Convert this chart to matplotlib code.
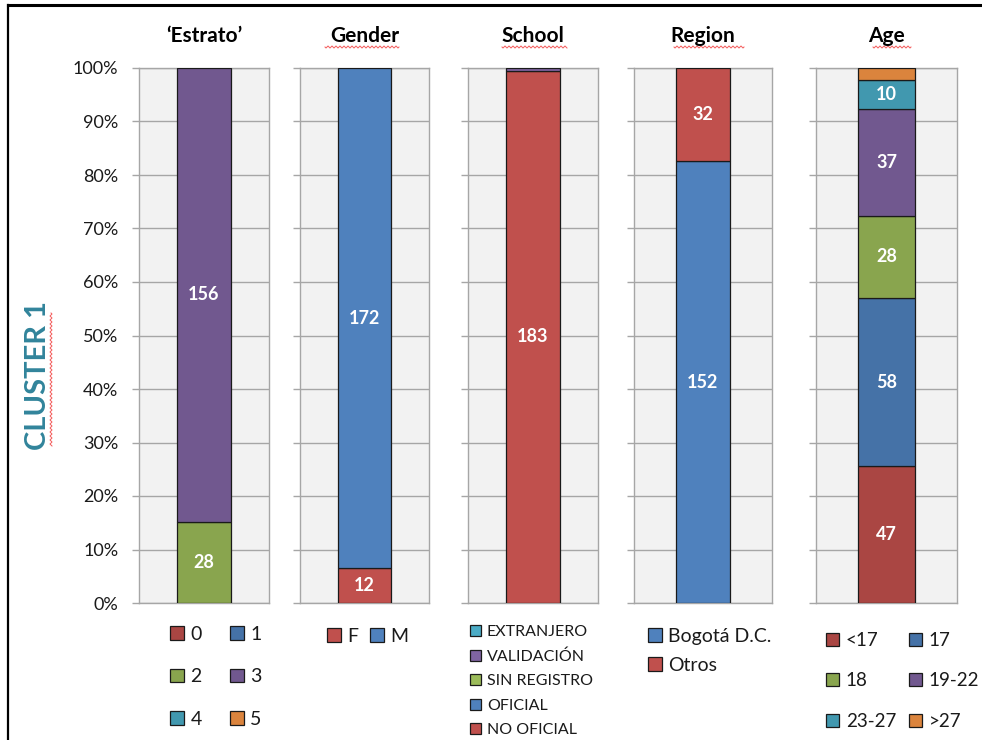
import numpy as np
import matplotlib
matplotlib.use('Agg')
import matplotlib.pyplot as plt
from matplotlib.patches import Patch
from matplotlib.lines import Line2D

plt.rcParams['font.family'] = ['Lato', 'DejaVu Sans']

# ---- datos por variable (conteos del cluster 1) ----
estrato_labels = ['0', '1', '2', '3', '4', '5']
estrato_counts = [0, 0, 28, 156, 0, 0]

gender_labels = ['F', 'M']
gender_counts = [12, 172]

school_labels = ['NO OFICIAL', 'OFICIAL', 'SIN REGISTRO', 'VALIDACIÓN', 'EXTRANJERO']
school_counts = [183, 0, 0, 1, 0]

region_labels = ['Bogotá D.C.', 'Otros']
region_counts = [152, 32]

age_labels = ['<17', '17', '18', '19-22', '23-27', '>27']
age_counts = [47, 58, 28, 37, 10, 4]

titles = ['\u2018Estrato\u2019', 'Gender', 'School', 'Region', 'Age']
y_ticks = list(range(0, 101, 10))

# paletas tipo Excel
dark = ['#AA4643', '#4572A7', '#89A54E', '#71588F', '#4198AF', '#DB843D']
c_red, c_blue, c_green, c_purple, c_teal = '#C0504D', '#4F81BD', '#9BBB59', '#8064A2', '#4BACC6'

W, H = 982, 740
fig = plt.figure(figsize=(W / 100, H / 100), dpi=100)
fig.patch.set_facecolor('white')

def fx(px):
    return px / W

def fy(py):
    return 1 - py / H

# limites de cada panel en pixeles (izq, der) y ancho de barra
panels = [(139, 269, 0.415), (300, 429, 0.41), (468, 598, 0.41), (634, 772, 0.39), (816, 957, 0.41)]
y_top, y_bot = 68, 603

series = [
    (estrato_labels, estrato_counts, dark),
    (gender_labels, gender_counts, [c_red, c_blue]),
    (school_labels, school_counts, [c_red, c_blue, c_green, c_purple, c_teal]),
    (region_labels, region_counts, [c_blue, c_red]),
    (age_labels, age_counts, dark),
]

for i, ((x0, x1, bw), (labels, counts, cols)) in enumerate(zip(panels, series)):
    ax = fig.add_axes([fx(x0), fy(y_bot), fx(x1 - x0), (y_bot - y_top) / H])
    ax.set_facecolor('#F2F2F2')
    ax.set_xlim(-0.5, 0.5)
    ax.set_ylim(0, 100)
    ax.set_yticks(y_ticks)
    ax.set_xticks([])
    ax.yaxis.grid(True, color='#A6A6A6', linewidth=1.0)
    ax.set_axisbelow(True)
    for s in ax.spines.values():
        s.set_color('#A6A6A6')
        s.set_linewidth(1.0)
    ax.tick_params(axis='y', length=5, width=1.0, color='#A6A6A6', pad=10,
                   labelsize=13, labelcolor='#1a1a1a')
    if i == 0:
        ax.set_yticklabels([f'{t}%' for t in y_ticks])
    else:
        ax.set_yticklabels([])

    total = sum(counts)
    bottom = 0.0
    for lab, c, col in zip(labels, counts, cols):
        if c == 0:
            continue
        pct = c / total * 100
        ax.bar(0, pct, bw, bottom=bottom, color=col, edgecolor='#1a1a1a', linewidth=0.9, zorder=3)
        if c >= 5:
            ax.text(0, bottom + pct / 2, str(c), ha='center', va='center', color='white',
                    fontsize=13, fontweight='bold', zorder=4)
        bottom += pct

    fig.text(fx((x0 + x1) / 2), fy(36), titles[i], ha='center', va='center',
             fontsize=15, fontweight='bold', color='black')

def handles_for(labels, cols):
    return [Patch(facecolor=c, edgecolor='#1a1a1a', linewidth=0.9, label=l) for l, c in zip(labels, cols)]

def add_legend(hs, anchor, fs, ncol=1, spacing=0.5, colsp=1.0):
    fig.legend(handles=hs, loc='upper left', bbox_to_anchor=anchor, ncol=ncol, frameon=False,
               fontsize=fs, handlelength=0.7, handleheight=0.7, handletextpad=0.35,
               labelspacing=spacing, columnspacing=colsp, borderpad=0, borderaxespad=0,
               labelcolor='#1a1a1a')

# Estrato: 3 filas x 2 columnas
h = handles_for(estrato_labels, dark)
add_legend([h[0], h[2], h[4], h[1], h[3], h[5]], (fx(170), fy(626)), 14, ncol=2, spacing=1.3, colsp=1.45)
# Gender
add_legend(handles_for(gender_labels, [c_red, c_blue]), (fx(327), fy(628)), 14, ncol=2, colsp=0.6)
# School (orden inverso)
sh = handles_for(school_labels, [c_red, c_blue, c_green, c_purple, c_teal])[::-1]
add_legend(sh, (fx(470), fy(625)), 11.5, spacing=0.64)
# Region
add_legend(handles_for(region_labels, [c_blue, c_red]), (fx(648), fy(628)), 14, spacing=0.6)
# Age
h = handles_for(age_labels, dark)
add_legend([h[0], h[2], h[4], h[1], h[3], h[5]], (fx(826), fy(632)), 13.5, ncol=2, spacing=1.25, colsp=0.7)

# etiqueta lateral
fig.text(fx(38), fy(375), 'CLUSTER 1', rotation=90, ha='center', va='center',
         fontsize=21, fontweight='bold', color='#31849B')

# subrayado ondulado del corrector ortografico
def squiggle(x0, x1, y, vertical=False):
    t = np.arange(0, x1 - x0, 1.0)
    w = np.sin(t * np.pi / 2.0)
    if vertical:
        xs, ys = fx(y + w), fy(x0 + t)
    else:
        xs, ys = fx(x0 + t), fy(y + w)
    fig.add_artist(Line2D(xs, ys, color='#F03030', linewidth=0.7, alpha=0.8))

squiggle(325, 400, 47)
squiggle(502, 568, 47)
squiggle(674, 745, 47)
squiggle(873, 912, 47)
squiggle(313, 447, 51, vertical=True)

# marco de la imagen
fig.add_artist(Line2D([fx(8), fx(982)], [fy(5), fy(5)], color='black', linewidth=2.2))
fig.add_artist(Line2D([fx(8), fx(8)], [fy(5), fy(740)], color='black', linewidth=1.6))

fig.savefig('out.png', dpi=100, facecolor='white')
